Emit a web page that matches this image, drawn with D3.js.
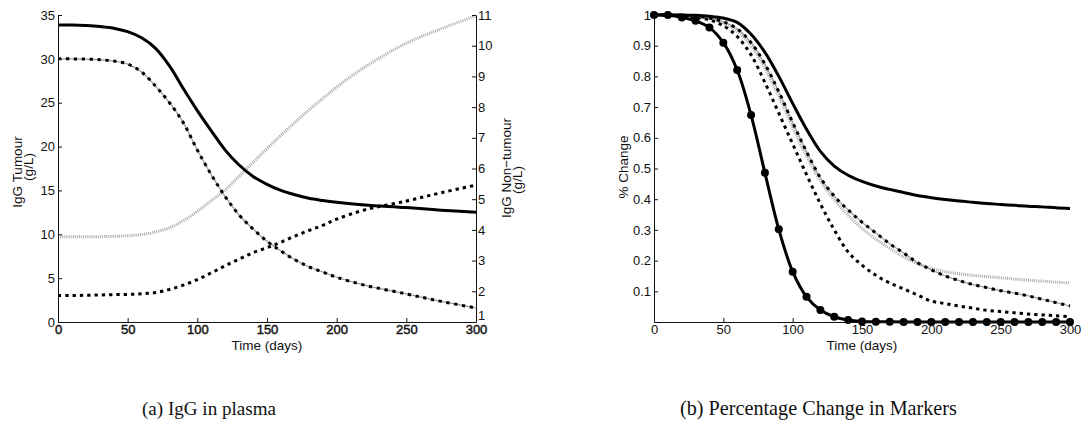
<!DOCTYPE html>
<html><head><meta charset="utf-8">
<script src="https://cdn.jsdelivr.net/npm/d3@7"></script>
<style>
body{margin:0;background:#fff}
svg{display:block}
.ax text{font-family:"Liberation Sans",Arial,sans-serif;font-size:13px;fill:#111}
.ax path,.ax line{stroke:#111;stroke-width:1}
.lbl{font-family:"Liberation Sans",Arial,sans-serif;font-size:13.5px;fill:#111}
.cap{font-family:"Liberation Serif","Times New Roman",serif;font-size:17px;fill:#111}
</style>
</head><body>
<svg id="c" width="1083" height="430"></svg>
<script>
// ---------- DATA ----------
const leftDays = [0,10,20,30,40,50,60,70,80,90,100,110,120,130,140,150,160,170,180,190,200,220,250,275,300];
const tumourSolid   = [33.85,33.85,33.8,33.7,33.5,33.1,32.4,31.2,29.2,26.6,24.1,21.8,19.6,17.9,16.6,15.7,15.0,14.5,14.1,13.85,13.65,13.35,13.05,12.75,12.5];
const tumourDashDot = [30.0,30.0,29.97,29.9,29.75,29.4,28.5,26.9,25.0,22.7,19.6,16.8,14.3,12.2,10.6,9.2,8.1,7.1,6.3,5.7,5.1,4.2,3.2,2.35,1.6];
const nonTumourGrey   = [3.78,3.78,3.78,3.78,3.79,3.81,3.85,3.93,4.07,4.3,4.6,4.95,5.3,5.75,6.2,6.65,7.08,7.5,7.9,8.28,8.65,9.3,10.08,10.55,10.98];
const nonTumourDotted = [1.86,1.86,1.87,1.88,1.89,1.9,1.92,1.96,2.06,2.2,2.38,2.6,2.83,3.05,3.26,3.42,3.6,3.8,3.98,4.15,4.35,4.65,4.94,5.21,5.46];

const rightDays = d3.range(0, 301, 10);
const markerSeries = [1.0,1.0,0.992,0.981,0.959,0.91,0.821,0.674,0.486,0.302,0.164,0.082,0.039,0.017,0.0065,0.002,0.001,0.0005,0,0,0,0,0,0,0,0,0,0,0,0,0];
const solidSeries  = [1.0,1.0,1.0,0.999,0.996,0.99,0.976,0.937,0.878,0.8,0.712,0.628,0.556,0.508,0.478,0.458,0.443,0.432,0.422,0.412,0.405,0.399,0.394,0.39,0.386,0.383,0.38,0.377,0.375,0.372,0.37];
const dashDotSeries= [1,1,0.999,0.996,0.99,0.978,0.955,0.91,0.84,0.75,0.65,0.555,0.47,0.41,0.365,0.325,0.29,0.255,0.225,0.193,0.17,0.15,0.135,0.122,0.112,0.102,0.094,0.085,0.074,0.063,0.052];
const greySeries   = [1,1,0.999,0.995,0.988,0.973,0.947,0.9,0.826,0.735,0.635,0.54,0.46,0.398,0.348,0.305,0.27,0.24,0.212,0.19,0.175,0.164,0.157,0.152,0.148,0.144,0.14,0.136,0.133,0.13,0.127];
const dottedSeries = [1,1,0.998,0.993,0.984,0.965,0.93,0.87,0.78,0.68,0.58,0.48,0.385,0.3,0.228,0.185,0.152,0.127,0.108,0.088,0.068,0.06,0.052,0.045,0.038,0.034,0.03,0.026,0.023,0.02,0.017];

const timeTicks = [0,50,100,150,200,250,300];
const tumourTicks = [0,5,10,15,20,25,30,35];
const nonTumourTicks = [1,2,3,4,5,6,7,8,9,10,11];
const pctTicks = [0.1,0.2,0.3,0.4,0.5,0.6,0.7,0.8,0.9,1];
const pctLabels = ["0.1","0.2","0.3","0.4","0.5","0.6","0.7","0.8","0.9","1"];

// ---------- DRAW ----------
const svg = d3.select("#c");
const plotTop = 15, plotBottom = 322;

function styleLine(sel, kind){
  if(kind==="solid") sel.attr("stroke","#000").attr("stroke-width",3);
  else if(kind==="dotted") sel.attr("stroke","#000").attr("stroke-width",3).attr("stroke-dasharray","3.3,4");
  else if(kind==="grey") sel.attr("stroke","#a8a8a8").attr("stroke-width",3).attr("stroke-dasharray","1,1.1");
  return sel;
}
function drawSeries(g, xs, ys, x, y, kind){
  const line = d3.line().x(d=>x(d[0])).y(d=>y(d[1])).curve(d3.curveCatmullRom.alpha(0.5));
  const pts = xs.map((t,i)=>[t,ys[i]]);
  if(kind==="dashdot"){
    g.append("path").attr("d",line(pts)).attr("fill","none").attr("stroke","#9a9a9a").attr("stroke-width",1.2);
    g.append("path").attr("d",line(pts)).attr("fill","none").attr("stroke","#000").attr("stroke-width",3).attr("stroke-dasharray","3.3,4.6");
  } else {
    styleLine(g.append("path").attr("d",line(pts)).attr("fill","none"), kind);
  }
}

// ===== Left chart =====
const xL = d3.scaleLinear().domain([0,300]).range([58,476]);
const yT = d3.scaleLinear().domain([0,35]).range([plotBottom,plotTop]);
const yN = d3.scaleLinear().domain([1,11]).range([plotBottom,plotTop]);
const gL = svg.append("g");
drawSeries(gL, leftDays, nonTumourGrey, xL, yN, "grey");
drawSeries(gL, leftDays, nonTumourDotted, xL, yN, "dotted");
drawSeries(gL, leftDays, tumourDashDot, xL, yT, "dashdot");
drawSeries(gL, leftDays, tumourSolid, xL, yT, "solid");

gL.append("g").attr("class","ax").attr("transform",`translate(0,${plotBottom})`)
  .call(d3.axisBottom(xL).tickValues(timeTicks).tickSizeInner(-4).tickSizeOuter(0).tickPadding(3))
  .selectAll("text").attr("stroke","#111").attr("stroke-width",0.45);
gL.append("g").attr("class","ax").attr("transform",`translate(58,0)`)
  .call(d3.axisLeft(yT).tickValues(tumourTicks).tickSizeInner(-4).tickSizeOuter(0).tickPadding(3));
const rAx = gL.append("g").attr("class","ax").attr("transform",`translate(476,0)`)
  .call(d3.axisRight(yN).tickValues(nonTumourTicks).tickSizeInner(-4).tickSizeOuter(0).tickPadding(2));
rAx.selectAll(".tick text").filter(d=>d===1).attr("dy","-0.2em");

gL.append("text").attr("class","lbl").attr("text-anchor","middle")
  .attr("transform","translate(22,172) rotate(-90)").text("IgG Tumour");
gL.append("text").attr("class","lbl").attr("text-anchor","middle")
  .attr("transform","translate(33,167) rotate(-90)").text("(g/L)");
gL.append("text").attr("class","lbl").attr("text-anchor","middle")
  .attr("transform","translate(510.5,168) rotate(-90)").text("IgG Non\u2212tumour");
gL.append("text").attr("class","lbl").attr("text-anchor","middle")
  .attr("transform","translate(521.5,180) rotate(-90)").text("(g/L)");
gL.append("text").attr("class","lbl").attr("text-anchor","middle")
  .attr("x",267).attr("y",349.5).text("Time (days)");

// ===== Right chart =====
const xR = d3.scaleLinear().domain([0,300]).range([654,1070]);
const yP = d3.scaleLinear().domain([0,1]).range([plotBottom,plotTop]);
const gR = svg.append("g");
drawSeries(gR, rightDays, greySeries, xR, yP, "grey");
drawSeries(gR, rightDays, dottedSeries, xR, yP, "dotted");
drawSeries(gR, rightDays, dashDotSeries, xR, yP, "dashdot");
drawSeries(gR, rightDays, solidSeries, xR, yP, "solid");
drawSeries(gR, rightDays, markerSeries, xR, yP, "solid");
gR.append("g").selectAll("circle").data(rightDays.map((t,i)=>[t,markerSeries[i]])).join("circle")
  .attr("cx",d=>xR(d[0])).attr("cy",d=>yP(d[1])).attr("r",4).attr("fill","#000");

gR.append("g").attr("class","ax").attr("transform",`translate(0,${plotBottom})`)
  .call(d3.axisBottom(xR).tickValues(timeTicks).tickSizeInner(-4).tickSizeOuter(0).tickPadding(3));
gR.append("g").attr("class","ax").attr("transform",`translate(654,0)`)
  .call(d3.axisLeft(yP).tickValues(pctTicks).tickFormat((d,i)=>pctLabels[i]).tickSizeInner(-4).tickSizeOuter(0).tickPadding(3));
gR.append("text").attr("class","lbl").attr("text-anchor","middle")
  .attr("transform","translate(628,167) rotate(-90)").text("% Change");
gR.append("text").attr("class","lbl").attr("text-anchor","middle")
  .attr("x",862).attr("y",349.5).text("Time (days)");

// captions
function caption(txt, x0, x1, yb){
  const t = svg.append("text").attr("class","cap").attr("x",x0).attr("y",yb).text(txt);
  const w = t.node().getComputedTextLength();
  const fs = (17*(x1-x0)/w).toFixed(2)+"px";
  t.style("font-size", fs);
}
caption("(a)  IgG in plasma", 142, 276, 415);
caption("(b)  Percentage Change in Markers", 680, 957, 415);
</script>
</body></html>
